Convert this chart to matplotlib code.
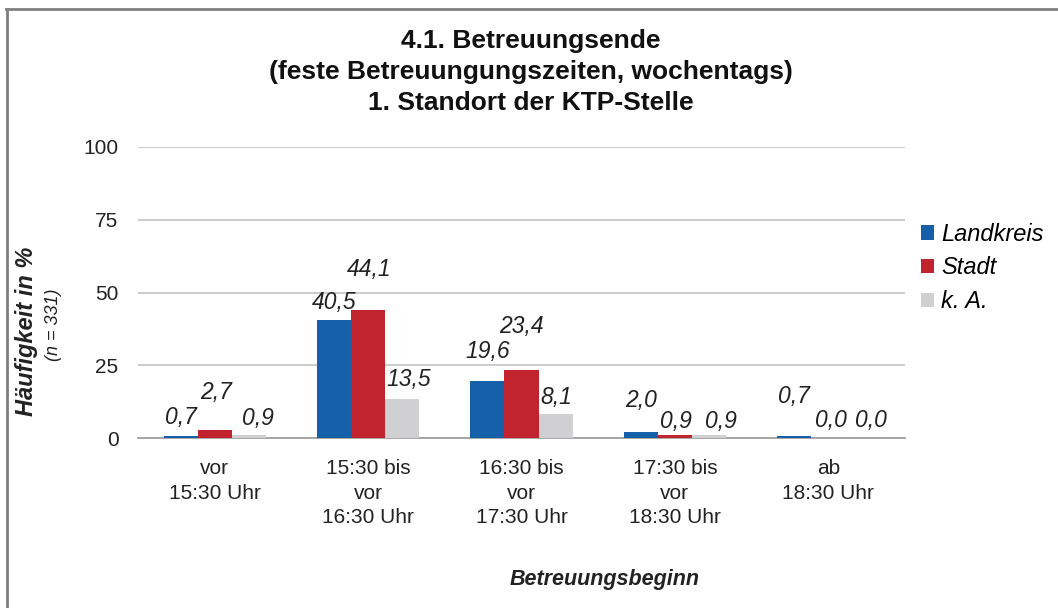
import numpy as np
import matplotlib
matplotlib.use('Agg')
import matplotlib.pyplot as plt
from matplotlib.lines import Line2D

plt.rcParams['font.family'] = ['Liberation Sans', 'DejaVu Sans']

# Daten
kategorien = ['vor\n15:30 Uhr', '15:30 bis\nvor\n16:30 Uhr', '16:30 bis\nvor\n17:30 Uhr',
              '17:30 bis\nvor\n18:30 Uhr', 'ab\n18:30 Uhr']
landkreis = [0.7, 40.5, 19.6, 2.0, 0.7]
stadt = [2.7, 44.1, 23.4, 0.9, 0.0]
ka = [0.9, 13.5, 8.1, 0.9, 0.0]
serien = ['Landkreis', 'Stadt', 'k. A.']
farben = ['#1560a8', '#c1232f', '#d0d0d3']

# Beschriftungs-Versatz in Pixeln (dx, dy) je Serie
versatz_dy = [[18, 18, 29, 32, 39], [38, 40, 43, 14, 17], [17, 19, 17, 14, 17]]
versatz_dx = [[0, 0, 0, 0, 0], [1, 1, 0, 1, 3], [9, 7, 1, 12, 9]]

fig = plt.figure(figsize=(10.58, 6.08), dpi=100)
ax = fig.add_axes([138 / 1058, 1 - 438 / 608, 767 / 1058, 291 / 608])

x = np.arange(len(kategorien))
breite = 0.222
werte = [landkreis, stadt, ka]
for i, (name, vals, col) in enumerate(zip(serien, werte, farben)):
    pos = x + (i - 1) * breite
    ax.bar(pos, vals, breite, color=col, label=name, zorder=3)
    for j, (p, v) in enumerate(zip(pos, vals)):
        ax.annotate(f'{v:.1f}'.replace('.', ','), (p, v),
                    xytext=(versatz_dx[i][j], versatz_dy[i][j]),
                    textcoords='offset pixels', ha='center', va='center',
                    fontsize=16.5, style='italic', color='#222222')

ax.set_xlim(-0.5, len(kategorien) - 0.5)
ax.set_ylim(0, 100)
ax.set_yticks([0, 25, 50, 75, 100])
ax.set_xticks(x)
ax.set_xticklabels(kategorien, linespacing=1.38)
ax.tick_params(axis='y', length=0, pad=14, labelsize=15, labelcolor='#222222')
ax.tick_params(axis='x', length=0, pad=15, labelsize=15, labelcolor='#222222')
ax.grid(axis='y', color='#c8c8c8', linewidth=1.3, zorder=0)
for s in ['top', 'right', 'left']:
    ax.spines[s].set_visible(False)
ax.spines['bottom'].set_color('#a0a0a0')
ax.spines['bottom'].set_linewidth(1.3)

# Titel
fig.text(531 / 1058, 1 - 29 / 608,
         '4.1. Betreuungsende\n(feste Betreuungungszeiten, wochentags)\n1. Standort der KTP-Stelle',
         ha='center', va='top', fontsize=19, fontweight='bold', linespacing=1.37,
         color='#111111')

# Achsentitel
fig.text(27 / 1058, 1 - 331 / 608, 'Häufigkeit in %', rotation=90, ha='center', va='center',
         fontsize=17, fontweight='bold', style='italic', color='#222222')
fig.text(53 / 1058, 1 - 325 / 608, '(n = 331)', rotation=90, ha='center', va='center',
         fontsize=13, style='italic', color='#222222')
fig.text(605 / 1058, 1 - 580 / 608, 'Betreuungsbeginn', ha='center', va='center',
         fontsize=15.5, fontweight='bold', style='italic', color='#222222')

# Legende
fig.legend(loc='center left', bbox_to_anchor=(921 / 1058, 1 - 268 / 608), frameon=False,
           prop={'size': 17, 'style': 'italic'}, handlelength=0.55, handleheight=0.55,
           handletextpad=0.3, labelspacing=0.45, borderaxespad=0, borderpad=0)

# Rahmen (oben und links)
fig.add_artist(Line2D([6 / 1058, 1], [1 - 9 / 608, 1 - 9 / 608], color='#808080', linewidth=2))
fig.add_artist(Line2D([7 / 1058, 7 / 1058], [0, 1 - 9 / 608], color='#808080', linewidth=2))

fig.savefig('out.png', dpi=100)
